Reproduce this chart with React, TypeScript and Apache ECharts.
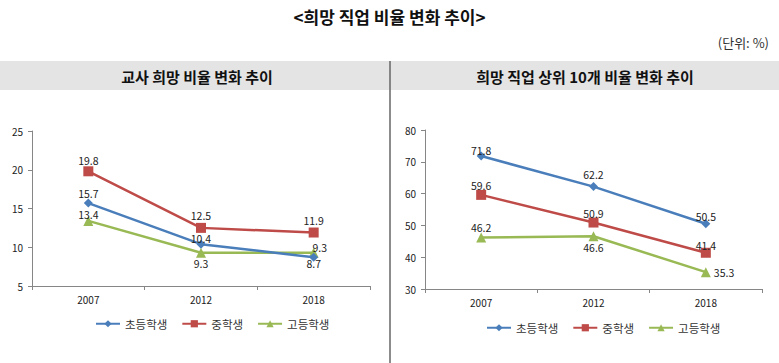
import React, { useEffect, useRef } from "react";
import * as echarts from "echarts";

const years = ["2007", "2012", "2018"];
const seriesNames = ["초등학생", "중학생", "고등학생"];

const teacherElem = [15.7, 10.4, 8.7];
const teacherMid = [19.8, 12.5, 11.9];
const teacherHigh = [13.4, 9.3, 9.3];

const top10Elem = [71.8, 62.2, 50.5];
const top10Mid = [59.6, 50.9, 41.4];
const top10High = [46.2, 46.6, 35.3];

const mainTitle = "<희망 직업 비율 변화 추이>";
const unitText = "(단위: %)";
const leftTitle = "교사 희망 비율 변화 추이";
const rightTitle = "희망 직업 상위 10개 비율 변화 추이";

const colors = ["#4A7EBB", "#BE4B48", "#98B954"];
const symbols = ["diamond", "rect", "triangle"];
const symbolSizes = [9, 10, 10];
const FONT = "'Noto Sans CJK KR', 'Noto Sans', sans-serif";

type Pos = string | undefined;

function makeSeries(
  idx: number,
  data: number[],
  axisIndex: number,
  positions: Pos[],
  offsets?: ([number, number] | undefined)[]
) {
  return {
    name: seriesNames[idx],
    type: "line",
    xAxisIndex: axisIndex,
    yAxisIndex: axisIndex,
    data: data.map((v, i) => ({
      value: v,
      label: {
        position: positions[i] || "top",
        offset: offsets && offsets[i] ? offsets[i] : [0, 0],
      },
    })),
    symbol: symbols[idx],
    symbolSize: symbolSizes[idx],
    lineStyle: { color: colors[idx], width: 2.5 },
    itemStyle: { color: colors[idx] },
    label: {
      show: true,
      fontSize: 10.5,
      color: "#222",
      fontFamily: FONT,
      distance: 1,
      formatter: (p: any) => p.value.toFixed(1),
    },
    z: 3 - idx,
  };
}

export default function App() {
  const ref = useRef<HTMLDivElement>(null);
  useEffect(() => {
    document.body.style.margin = "0";
    if (!ref.current) return;
    const chart = echarts.init(ref.current, undefined, { renderer: "svg" });
    const axisLine = { lineStyle: { color: "#868686", width: 1 } };
    const axisLabel = { fontSize: 10, color: "#222", fontFamily: FONT };
    const legendBase = {
      data: seriesNames,
      itemWidth: 24,
      itemHeight: 9,
      itemGap: 14,
      textStyle: { fontSize: 11.5, color: "#333", fontFamily: FONT },
      selectedMode: false,
    };
    chart.setOption({
      animation: false,
      color: colors,
      graphic: [
        {
          type: "text",
          left: "center",
          top: 8,
          style: {
            text: mainTitle,
            fontSize: 17,
            fontWeight: "bold",
            fill: "#111",
            fontFamily: FONT,
          },
        },
        {
          type: "text",
          right: 10,
          top: 36,
          style: { text: unitText, fontSize: 13, fill: "#333", fontFamily: FONT },
        },
        {
          type: "rect",
          shape: { x: 0, y: 61, width: 779, height: 29 },
          style: { fill: "#E4E4E4" },
          z: -1,
        },
        {
          type: "line",
          shape: { x1: 390, y1: 61, x2: 390, y2: 363 },
          style: { stroke: "#666", lineWidth: 1.5 },
        },
        {
          type: "text",
          x: 197,
          y: 76,
          style: {
            text: leftTitle,
            fontSize: 15,
            fontWeight: "bold",
            fill: "#111",
            fontFamily: FONT,
            align: "center",
            verticalAlign: "middle",
          },
        },
        {
          type: "text",
          x: 585,
          y: 76,
          style: {
            text: rightTitle,
            fontSize: 15,
            fontWeight: "bold",
            fill: "#111",
            fontFamily: FONT,
            align: "center",
            verticalAlign: "middle",
          },
        },
      ],
      legend: [
        { ...legendBase, left: 90, top: 313 },
        { ...legendBase, left: 481, top: 317 },
      ],
      grid: [
        { left: 32, top: 131, width: 338, height: 155 },
        { left: 425, top: 130, width: 337, height: 159 },
      ],
      xAxis: [0, 1].map((i) => ({
        type: "category",
        gridIndex: i,
        data: years,
        boundaryGap: true,
        axisLine,
        axisTick: { show: true, length: 4, lineStyle: { color: "#868686" } },
        axisLabel: { ...axisLabel, margin: 8 },
      })),
      yAxis: [
        {
          type: "value",
          gridIndex: 0,
          min: 5,
          max: 25,
          interval: 5,
          axisLine: { show: true, ...axisLine },
          axisTick: { show: true, length: 4, lineStyle: { color: "#868686" } },
          splitLine: { show: false },
          axisLabel: { ...axisLabel, margin: 9 },
        },
        {
          type: "value",
          gridIndex: 1,
          min: 30,
          max: 80,
          interval: 10,
          axisLine: { show: true, ...axisLine },
          axisTick: { show: true, length: 4, lineStyle: { color: "#868686" } },
          splitLine: { show: false },
          axisLabel: { ...axisLabel, margin: 9 },
        },
      ],
      series: [
        makeSeries(0, teacherElem, 0, ["top", "top", "bottom"], [[0, 1], [0, 5], [0, -5]]),
        makeSeries(1, teacherMid, 0, ["top", "top", "top"], [[0, 0], [0, -1], [0, -1]]),
        makeSeries(2, teacherHigh, 0, ["top", "bottom", "top"], [[0, 5], [0, 0], [6, 6]]),
        makeSeries(0, top10Elem, 1, ["top", "top", "top"], [[0, 5], [0, -1], [0, 3]]),
        makeSeries(1, top10Mid, 1, ["top", "top", "top"], [[0, 2], [0, 2], [0, 4]]),
        makeSeries(2, top10High, 1, ["top", "bottom", "right"], [[0, 1], [0, 0], [2, 0]]),
      ],
    });
    return () => chart.dispose();
  }, []);
  return <div ref={ref} style={{ width: 779, height: 363 }} />;
}
